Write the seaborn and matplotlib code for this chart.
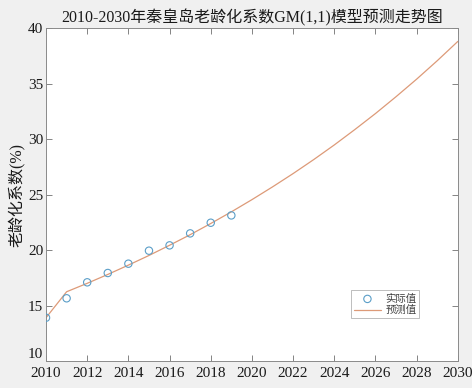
import pandas as pd
import numpy as np
import matplotlib.pyplot as plt
import seaborn as sns

# actual aging coefficient (%), 2010-2019
years_actual = [2010, 2011, 2012, 2013, 2014, 2015, 2016, 2017, 2018, 2019]
actual = [13.9, 15.65, 17.09, 17.93, 18.77, 19.94, 20.42, 21.5, 22.46, 23.12]

# GM(1,1) predicted values, 2010-2030
years_pred = list(range(2010, 2031))
predicted = [13.9, 16.24, 17.0, 17.8, 18.64, 19.51, 20.43, 21.38, 22.39, 23.44,
             24.54, 25.69, 26.89, 28.15, 29.47, 30.86, 32.3, 33.82, 35.4, 37.06, 38.8]

title = '2010-2030年秦皇岛老龄化系数GM(1,1)模型预测走势图'
ylabel = '老龄化系数(%)'
labels = ['实际值', '预测值']

df_act = pd.DataFrame({'year': years_actual, 'value': actual})
df_pred = pd.DataFrame({'year': years_pred, 'value': predicted})

sns.set_style('ticks')
plt.rcParams['font.family'] = ['Liberation Serif', 'Noto Sans CJK SC']

fig = plt.figure(figsize=(4.72, 3.88), dpi=100, facecolor='#f0f0f0')
ax = fig.add_axes([0.0975, 0.0696, 0.8725, 0.858])
ax.set_facecolor('white')

sns.scatterplot(data=df_act, x='year', y='value', ax=ax, marker='o', s=28,
                facecolor='none', edgecolor='#5a9ec8', linewidth=0.8, label=labels[0], zorder=3)
sns.lineplot(data=df_pred, x='year', y='value', ax=ax, color='#dd9a78',
             linewidth=0.9, label=labels[1], zorder=2)

ax.set_xlim(2010, 2030)
ax.set_ylim(10, 40)
ax.set_xticks(np.arange(2010, 2031, 2))
ax.set_yticks(np.arange(10, 41, 5))
ax.tick_params(direction='in', top=True, right=True, length=4, width=0.6,
               color='#707070', labelsize=11, pad=2, labelcolor='#1a1a1a')
ax.tick_params(axis='x', pad=4.5)
ax.get_yticklabels()[0].set_verticalalignment('bottom')
for sp in ax.spines.values():
    sp.set_color('#8a8a8a')
    sp.set_linewidth(0.7)

ax.set_title(title, fontsize=11.5, color='#1a1a1a', pad=4)
ax.set_xlabel('')
ax.set_ylabel(ylabel, fontsize=11.5, color='#1a1a1a', labelpad=2)

leg = ax.legend(loc='lower left', bbox_to_anchor=(0.74, 0.128), fontsize=7.5,
                frameon=True, fancybox=False, borderpad=0.3, handlelength=2.6,
                handletextpad=0.4, labelspacing=0.15, borderaxespad=0)
leg.get_frame().set_edgecolor('#a0a0a0')
leg.get_frame().set_linewidth(0.6)
for t in leg.get_texts():
    t.set_color('#404040')

plt.savefig('out.png', dpi=100, facecolor=fig.get_facecolor())
